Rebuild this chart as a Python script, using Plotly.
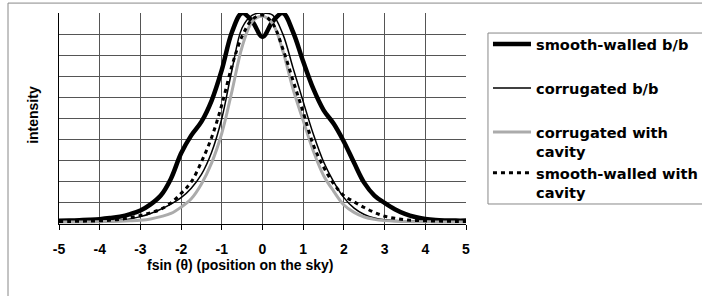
import plotly.graph_objects as go

# Shared x positions (fsin(theta), position on the sky)
x_pos = [-5, -4.75, -4.5, -4.25, -4, -3.75, -3.5, -3.25, -3, -2.75, -2.5, -2.25, -2, -1.75,
         -1.5, -1.25, -1, -0.75, -0.5, -0.25, 0, 0.25, 0.5, 0.75, 1, 1.25, 1.5, 1.75, 2,
         2.25, 2.5, 2.75, 3, 3.25, 3.5, 3.75, 4, 4.25, 4.5, 4.75, 5]

smooth_bb = [0.015, 0.016, 0.018, 0.020, 0.023, 0.028, 0.035, 0.047, 0.064, 0.093, 0.135,
             0.215, 0.335, 0.42, 0.485, 0.585, 0.73, 0.91, 1.0, 0.96, 0.886, 0.96, 1.0, 0.91,
             0.77, 0.64, 0.54, 0.475, 0.39, 0.29, 0.195, 0.135, 0.10, 0.07, 0.048, 0.033,
             0.024, 0.019, 0.017, 0.016, 0.016]

corr_bb = [0.012, 0.012, 0.013, 0.013, 0.014, 0.016, 0.018, 0.024, 0.035, 0.05, 0.07, 0.094,
           0.125, 0.17, 0.235, 0.34, 0.50, 0.73, 0.93, 0.99, 1.0, 0.99, 0.9, 0.74, 0.58, 0.425,
           0.295, 0.2, 0.125, 0.075, 0.045, 0.028, 0.02, 0.017, 0.015, 0.014, 0.013, 0.013,
           0.012, 0.012, 0.012]

corr_cav = [0.010, 0.010, 0.010, 0.010, 0.011, 0.012, 0.013, 0.015, 0.018, 0.024, 0.035,
            0.05, 0.08, 0.12, 0.19, 0.29, 0.43, 0.63, 0.84, 0.96, 0.985, 0.95, 0.82, 0.64,
            0.49, 0.345, 0.23, 0.155, 0.09, 0.055, 0.033, 0.022, 0.016, 0.013, 0.012, 0.011,
            0.011, 0.010, 0.010, 0.010, 0.010]

smooth_cav = [0.012, 0.012, 0.013, 0.014, 0.015, 0.018, 0.022, 0.03, 0.04, 0.053, 0.07, 0.1,
              0.145, 0.2, 0.295, 0.41, 0.565, 0.75, 0.89, 0.97, 0.99, 0.95, 0.83, 0.68, 0.53,
              0.375, 0.27, 0.19, 0.135, 0.105, 0.078, 0.055, 0.037, 0.027, 0.02, 0.017,
              0.015, 0.014, 0.013, 0.012, 0.012]

names = ["smooth-walled b/b<br> ", "corrugated b/b<br> ",
         "corrugated with<br>cavity", "smooth-walled with<br>cavity"]
groups = ["g1", "g2", "g3", "g3"]

x_ticks = [-5, -4, -3, -2, -1, 0, 1, 2, 3, 4, 5]
x_tick_labels = ["-5", "-4", "-3", "-2", "-1", "0", "1", "2", "3", "4", "5"]
y_grid = [0, 0.1, 0.2, 0.3, 0.4, 0.5, 0.6, 0.7, 0.8, 0.9, 1.0]

fig = go.Figure()
fig.add_trace(go.Scatter(x=x_pos, y=smooth_bb, name=names[0], legendgroup=groups[0],
                         mode="lines", line=dict(color="black", width=4.5, shape="spline")))
fig.add_trace(go.Scatter(x=x_pos, y=corr_bb, name=names[1], legendgroup=groups[1],
                         mode="lines", line=dict(color="black", width=1.5, shape="spline")))
fig.add_trace(go.Scatter(x=x_pos, y=corr_cav, name=names[2], legendgroup=groups[2],
                         mode="lines", line=dict(color="#ababab", width=3, shape="spline")))
fig.add_trace(go.Scatter(x=x_pos, y=smooth_cav, name=names[3], legendgroup=groups[3],
                         mode="lines",
                         line=dict(color="black", width=3, dash="4px,4px", shape="spline")))

axis_font = dict(family="Liberation Sans", size=14, color="black", weight="bold")

fig.update_layout(
    width=702, height=296,
    margin=dict(l=59, r=236, t=13, b=72, autoexpand=False),
    paper_bgcolor="white", plot_bgcolor="white",
    font=dict(family="Liberation Sans", size=14, color="black"),
    xaxis=dict(range=[-5, 5], tickvals=x_ticks, ticktext=x_tick_labels, ticks="outside",
               ticklen=5, tickcolor="black", showgrid=True, gridcolor="#555555", gridwidth=1,
               showline=True, linecolor="black", linewidth=1, zeroline=False,
               tickfont=axis_font, ticklabelstandoff=7, automargin=False),
    yaxis=dict(range=[0, 1], tickvals=y_grid, showticklabels=False, ticks="",
               showgrid=True, gridcolor="#555555", gridwidth=1, zeroline=False,
               showline=True, linecolor="black", linewidth=1, automargin=False),
    legend=dict(x=1.054, xanchor="left", y=0.929, yanchor="top",
                font=dict(family="DejaVu Sans", size=14.6, color="black", weight="bold"),
                bgcolor="rgba(0,0,0,0)", borderwidth=0, itemwidth=38,
                valign="top", traceorder="grouped", tracegroupgap=3),
    showlegend=True,
)

fig.add_annotation(text="fsin (θ) (position on the sky)", xref="paper", yref="paper",
                   x=0.445, y=-0.196, showarrow=False, xanchor="center", yanchor="middle",
                   font=axis_font)
fig.add_annotation(text="intensity", xref="paper", yref="paper", textangle=-90,
                   x=-0.064, y=0.517, showarrow=False, xanchor="center", yanchor="middle",
                   font=axis_font)

# outer chart-area border
fig.add_shape(type="rect", xref="paper", yref="paper", x0=-0.1253, y0=-0.6, x1=2.0, y1=1.047,
              line=dict(color="#888888", width=1), fillcolor="rgba(0,0,0,0)", layer="below")
# legend frame
fig.add_shape(type="rect", xref="paper", yref="paper", x0=1.054, y0=0.0948, x1=2.0, y1=0.905,
              line=dict(color="#888888", width=1), fillcolor="white", layer="below")

fig.write_html("out.html", config={"displayModeBar": False},
               post_script="document.body.style.margin='0';")
